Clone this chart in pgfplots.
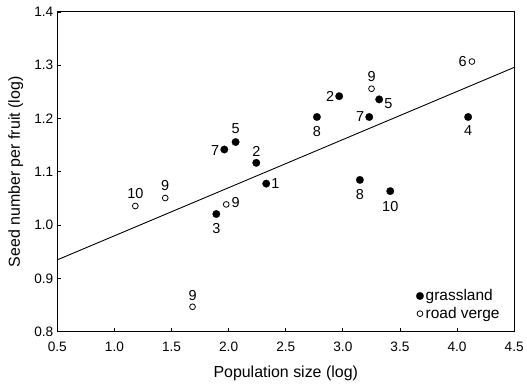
\documentclass[border=0pt]{standalone}
\usepackage{fontspec}
\setmainfont{Liberation Sans}
\usepackage{pgfplots}
\pgfplotsset{compat=1.18}
\pgfplotsset{mylegimg/.style={legend image code/.code={\draw[mark repeat=2,mark phase=2,##1] plot coordinates {(0pt,0pt)(8pt,0pt)(15pt,0pt)};}}}
\begin{document}
\begin{tikzpicture}
\begin{axis}[
  scale only axis, width=458.5pt, height=321pt,
  at={(0,0)}, anchor=south west,
  xmin=0.5, xmax=4.5, ymin=0.8, ymax=1.4,
  xtick={0.5,1.0,1.5,2.0,2.5,3.0,3.5,4.0,4.5},
  ytick={0.8,0.9,1.0,1.1,1.2,1.3,1.4},
  tick pos=left, tick align=inside, major tick length=3.5pt,
  tick style={black, line width=0.8pt},
  axis line style={line width=1pt},
  ticklabel style={font=\fontsize{13.7}{16}\selectfont},
  xticklabel style={yshift=-6.5pt, /pgf/number format/.cd, fixed, fixed zerofill, precision=1, assume math mode=true},
  yticklabel style={xshift=-0.5pt, /pgf/number format/.cd, fixed, fixed zerofill, precision=1, assume math mode=true},
  xlabel={Population size (log)},
  ylabel={Seed number per fruit (log)},
  every axis x label/.style={at={(axis description cs:0.5,-0.13)}, anchor=center, font=\fontsize{16}{19}\selectfont},
  every axis y label/.style={at={(axis description cs:-0.091,0.5)}, anchor=center, rotate=90, font=\fontsize{16}{19}\selectfont},
  legend style={draw=none, fill=none, font=\fontsize{15.5}{18}\selectfont,
    at={(axis description cs:0.975,0.027)}, anchor=south east,
    row sep=1pt, inner sep=1pt},
  legend cell align=left,
]
\addplot[black, line width=0.9pt, forget plot] coordinates {(0.5,0.935) (4.5,1.296)};
\addplot[only marks, mark=*, mark size=3.8pt, mark options={fill=black, draw=black, line width=0.2pt}, forget plot,
    point meta=explicit symbolic,
    visualization depends on={value \thisrow{anc}\as\anc},
    visualization depends on={\thisrow{dy}\as\dy},
    nodes near coords,
    every node near coord/.append style={anchor=\anc, yshift=\dy pt,
      font=\fontsize{14.5}{17}\selectfont, inner xsep=5pt, inner ysep=6pt, text=black}]
  table[x=x, y=y, meta=lab] {
x y lab anc dy
2.968 1.242 2 east 0
3.318 1.236 5 west -4
2.773 1.203 8 north -3
3.231 1.203 7 east 0
4.097 1.203 4 north -3
2.061 1.156 5 south 2
1.962 1.142 7 east -1
2.242 1.117 2 south 0
2.329 1.078 1 west 0
3.149 1.085 8 north -3
3.415 1.064 10 north -4
1.892 1.021 3 north -3
};
\addplot[only marks, mark=o, mark size=2.9pt, mark options={draw=black, fill=white, line width=0.8pt}, forget plot,
    point meta=explicit symbolic,
    visualization depends on={value \thisrow{anc}\as\anc},
    visualization depends on={\thisrow{dy}\as\dy},
    nodes near coords,
    every node near coord/.append style={anchor=\anc, yshift=\dy pt,
      font=\fontsize{14.5}{17}\selectfont, inner xsep=5pt, inner ysep=6pt, text=black}]
  table[x=x, y=y, meta=lab] {
x y lab anc dy
4.130 1.307 6 east 0
3.251 1.256 9 south 1
1.183 1.036 10 south 1
1.445 1.051 9 south 1
1.979 1.039 9 west 2
1.684 0.847 9 south 0
};
\addlegendimage{only marks, mark=*, mark size=3.8pt, mark options={fill=black, draw=black, line width=0.2pt}, mylegimg}
\addlegendentry{grassland}
\addlegendimage{only marks, mark=o, mark size=2.9pt, mark options={draw=black, fill=white, line width=0.8pt}, mylegimg}
\addlegendentry{road verge}
\end{axis}
\useasboundingbox (-57.5pt,-51pt) rectangle (469.5pt,333pt);
\end{tikzpicture}
\end{document}
